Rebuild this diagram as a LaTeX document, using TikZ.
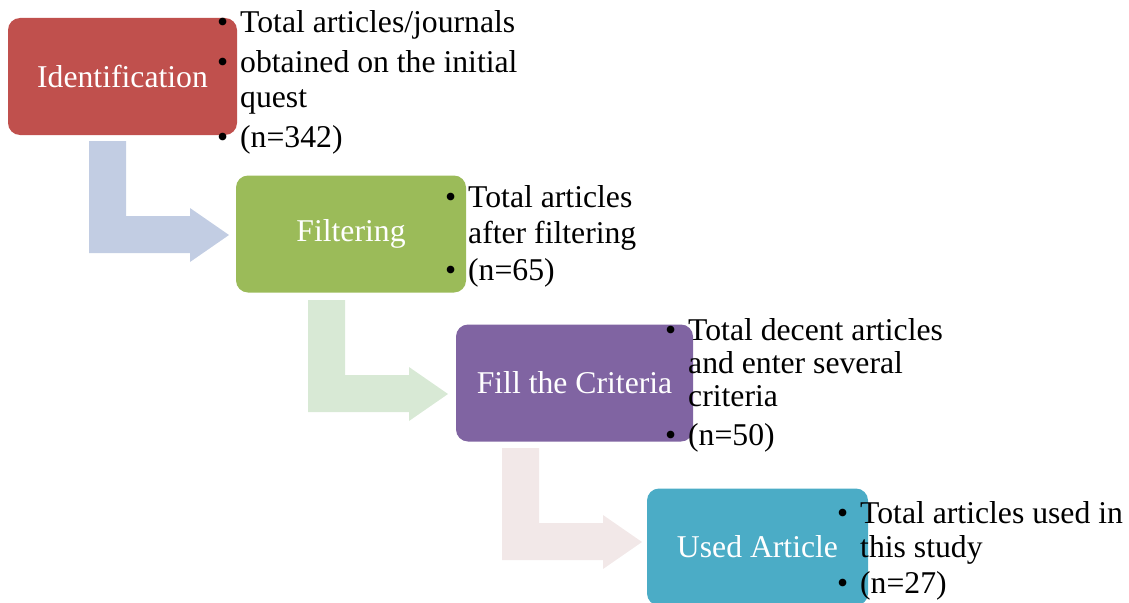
\documentclass[tikz,border=0pt]{standalone}
\usepackage{fontspec}
\setmainfont{Liberation Serif}
\usepackage{tikz}

\definecolor{identred}{RGB}{192,80,77}
\definecolor{filtgreen}{RGB}{155,187,89}
\definecolor{critpurple}{RGB}{128,100,162}
\definecolor{usedteal}{RGB}{75,172,198}
\definecolor{arrowblue}{RGB}{194,205,227}
\definecolor{arrowgreen}{RGB}{216,233,213}
\definecolor{arrowpink}{RGB}{242,232,232}

\begin{document}
\begin{tikzpicture}[x=1pt, y=-1pt]
	\tikzstyle{box_style}=[rectangle, rounded corners=12pt, minimum width=229pt, minimum height=117pt, text=white, font=\fontsize{31.7}{35}\selectfont]
	\tikzstyle{item_style}=[anchor=base west, inner sep=0pt, font=\fontsize{31.7}{35}\selectfont]
	\useasboundingbox (0,0) rectangle (1129,602);
	
	% bent arrows
	\foreach \xa/\ya/\col in {89/141/arrowblue, 308/300/arrowgreen, 502/448/arrowpink}
		\fill[\col] (\xa, \ya) -- (\xa+37, \ya) -- (\xa+37, \ya+75) -- (\xa+101, \ya+75) -- (\xa+101, \ya+67) -- (\xa+140, \ya+94) -- (\xa+101, \ya+121) -- (\xa+101, \ya+112) -- (\xa, \ya+112) -- cycle;
	
	% boxes
	\node at (122.5, 76.5) [box_style, fill=identred] (box_ident) {Identification};
	\node at (351, 234) [box_style, fill=filtgreen, minimum width=230pt] (box_filter) {Filtering};
	\node at (574.5, 383) [box_style, fill=critpurple, minimum width=237pt] (box_crit) {Fill the Criteria};
	\node at (757.5, 547) [box_style, fill=usedteal, minimum width=221pt] (box_used) {Used Article};
	
	% identification items
	\node at (240, 33) [item_style] (ident_1) {\llap{\textbullet\hspace{12pt}}Total articles/journals};
	\node at (240, 72) [item_style] (ident_2) {\llap{\textbullet\hspace{12pt}}obtained on the initial};
	\node at (240, 107) [item_style] (ident_3) {quest};
	\node at (240, 147) [item_style] (ident_4) {\llap{\textbullet\hspace{12pt}}(n=342)};
	
	% filtering items
	\node at (468, 207) [item_style] (filter_1) {\llap{\textbullet\hspace{12pt}}Total articles};
	\node at (468, 243) [item_style] (filter_2) {after filtering};
	\node at (468, 280) [item_style] (filter_3) {\llap{\textbullet\hspace{12pt}}(n=65)};
	
	% criteria items
	\node at (688, 340) [item_style] (crit_1) {\llap{\textbullet\hspace{12pt}}Total decent articles};
	\node at (688, 373) [item_style] (crit_2) {and enter several};
	\node at (688, 406) [item_style] (crit_3) {criteria};
	\node at (688, 445) [item_style] (crit_4) {\llap{\textbullet\hspace{12pt}}(n=50)};
	
	% used article items
	\node at (860, 523) [item_style] (used_1) {\llap{\textbullet\hspace{12pt}}Total articles used in};
	\node at (860, 557) [item_style] (used_2) {this study};
	\node at (860, 593) [item_style] (used_3) {\llap{\textbullet\hspace{12pt}}(n=27)};
	
\end{tikzpicture}
\end{document}
